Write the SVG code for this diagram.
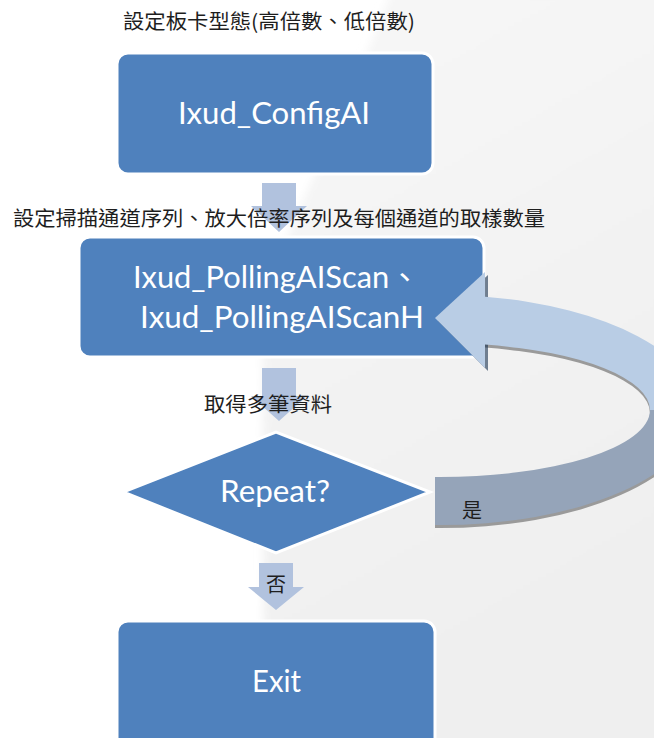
<svg xmlns="http://www.w3.org/2000/svg" width="654" height="738" viewBox="0 0 654 738">
  <defs>
    <linearGradient id="bgShade" x1="0" y1="0" x2="0.3" y2="1">
      <stop offset="0" stop-color="#f7f7f7"/>
      <stop offset="1" stop-color="#efefef"/>
    </linearGradient>
    <filter id="soft" x="-10%" y="-10%" width="120%" height="120%">
      <feGaussianBlur stdDeviation="4"/>
    </filter>
    <style>
      .box { fill: #4f81bd; stroke: #ffffff; stroke-width: 3; }
      .step { fill: #b1c2de; }
      .lbl { font-family: Lato, "Noto Sans CJK TC", sans-serif; font-size: 30px; fill: #ffffff; text-anchor: middle; }
      .note { font-family: "Noto Sans CJK TC", sans-serif; font-size: 20px; fill: #1e1e1e; }
    </style>
  </defs>

  <!-- page background with soft grey panel on the right -->
  <rect width="654" height="738" fill="#ffffff"/>
  <path d="M392 -10 L664 -10 L664 748 L264 748 L262 300 L305 196 L340 120 Z" fill="url(#bgShade)" filter="url(#soft)"/>

  <!-- nodes -->
  <g id="config">
    <rect class="box" x="117" y="53" width="316" height="121" rx="11"/>
    <text class="lbl" x="274" y="124" textLength="192" lengthAdjust="spacingAndGlyphs">Ixud_ConfigAI</text>
  </g>

  <g id="scan">
    <rect class="box" x="79" y="237" width="405" height="120" rx="11"/>
    <text class="lbl" x="276.5" y="288" textLength="287" lengthAdjust="spacingAndGlyphs">Ixud_PollingAIScan、</text>
    <text class="lbl" x="282" y="328" textLength="284" lengthAdjust="spacingAndGlyphs">Ixud_PollingAIScanH</text>
  </g>

  <g id="repeat">
    <polygon class="box" points="123,492 276,432 430,492 276,553"/>
    <text class="lbl" x="275" y="502" textLength="110" lengthAdjust="spacingAndGlyphs">Repeat?</text>
  </g>

  <g id="exit">
    <rect class="box" x="117" y="621" width="318" height="130" rx="11"/>
    <text class="lbl" x="276.5" y="692" textLength="49" lengthAdjust="spacingAndGlyphs">Exit</text>
  </g>

  <!-- connectors -->
  <g id="connectors">
    <polygon class="step" points="262,183 296,183 296,206 307,206 279,232 251,206 262,206"/>
    <polygon class="step" points="262,368 296,368 296,396 307,396 279,421 251,396 262,396"/>
    <polygon class="step" points="259,563 293,563 293,587 304,587 276,610 248,587 259,587"/>

    <!-- loop-back arrow (yes branch) -->
    <g id="loop">
      <g fill="#9a9a9a" transform="translate(0,3)">
        <path d="M485 296.8 A258 115 0 0 1 698 410 L650 410 A210 67 0 0 0 485 344.6 Z"/>
        <path d="M698 410 A258 115 0 0 1 435 525 L435 477 A210 67 0 0 0 650 410 Z"/>
      </g>
      <polygon points="485,272 435,318 485,368" fill="#17304f" opacity="0.6" transform="translate(3,3)"/>
      <path d="M698 410 A258 115 0 0 1 435 525 L435 477 A210 67 0 0 0 650 410 Z" fill="#95a4b9"/>
      <path d="M485 296.8 A258 115 0 0 1 698 410 L650 410 A210 67 0 0 0 485 344.6 Z" fill="#b9cde5"/>
      <polygon points="485,272 435,318 485,368" fill="#b9cde5"/>
    </g>
  </g>

  <!-- annotations -->
  <text class="note" x="123" y="29" textLength="292" lengthAdjust="spacingAndGlyphs">設定板卡型態(高倍數、低倍數)</text>
  <text class="note" x="13" y="226" textLength="532" lengthAdjust="spacingAndGlyphs">設定掃描通道序列、放大倍率序列及每個通道的取樣數量</text>
  <text class="note" x="204" y="412" font-size="21" textLength="128" lengthAdjust="spacingAndGlyphs">取得多筆資料</text>
  <text class="note" x="462" y="518">是</text>
  <text class="note" x="266" y="592" font-size="19">否</text>
</svg>
